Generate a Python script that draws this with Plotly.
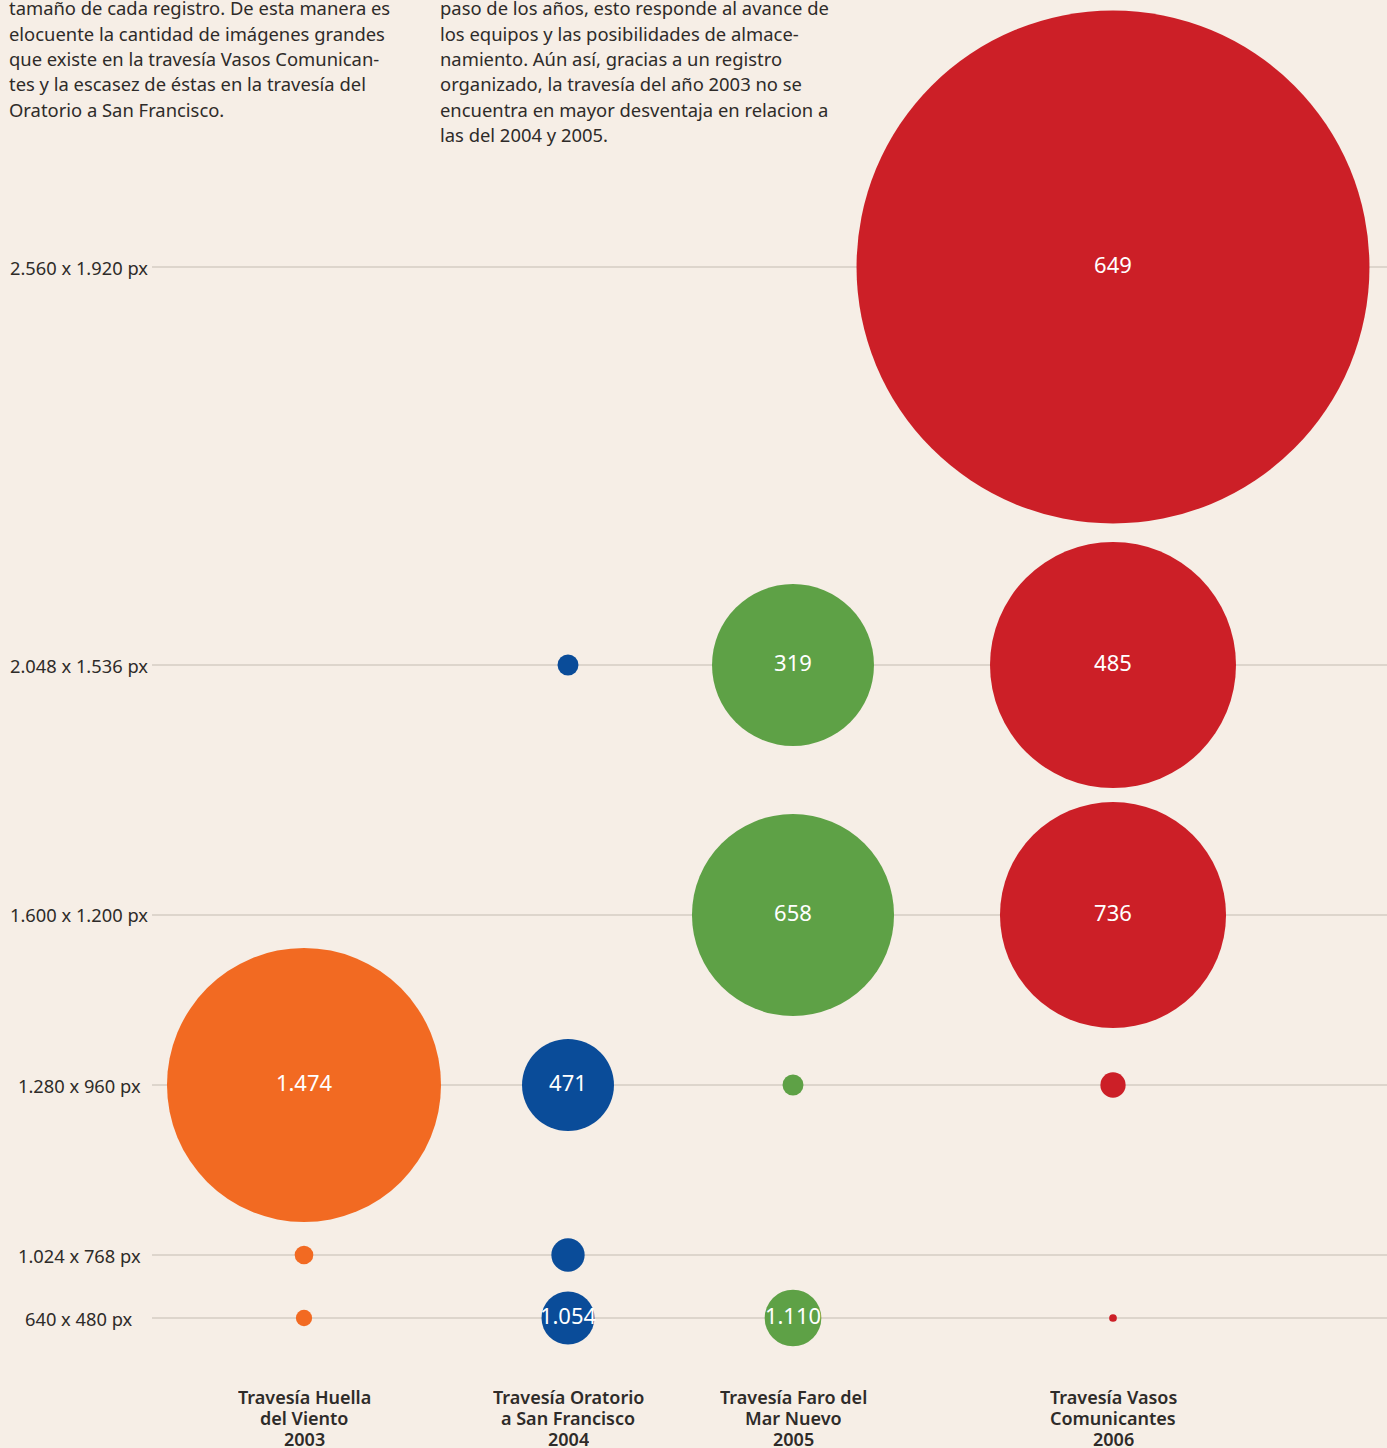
import plotly.graph_objects as go

# ---------------- DATA ----------------
resoluciones = ["2.560 x 1.920 px", "2.048 x 1.536 px", "1.600 x 1.200 px",
                "1.280 x 960 px", "1.024 x 768 px", "640 x 480 px"]

travesias = ["Travesía Huella<br>del Viento<br>2003",
             "Travesía Oratorio<br>a San Francisco<br>2004",
             "Travesía Faro del<br>Mar Nuevo<br>2005",
             "Travesía Vasos<br>Comunicantes<br>2006"]

colores = ["#F26A22", "#0A4C99", "#5EA146", "#CC1F27"]

# resolución de cada burbuja, etiqueta (cantidad de imágenes) y volumen (megapíxeles totales)
res_2003 = ["1.280 x 960 px", "1.024 x 768 px", "640 x 480 px"]
lab_2003 = ["1.474", "", ""]
vol_2003 = [1702, 116, 101]

res_2004 = ["2.048 x 1.536 px", "1.280 x 960 px", "1.024 x 768 px", "640 x 480 px"]
lab_2004 = ["", "471", "", "1.054"]
vol_2004 = [130, 571, 207, 329]

res_2005 = ["2.048 x 1.536 px", "1.600 x 1.200 px", "1.280 x 960 px", "640 x 480 px"]
lab_2005 = ["319", "658", "", "1.110"]
vol_2005 = [1006, 1255, 130, 352]

res_2006 = ["2.560 x 1.920 px", "2.048 x 1.536 px", "1.600 x 1.200 px", "1.280 x 960 px", "640 x 480 px"]
lab_2006 = ["649", "485", "736", "", ""]
vol_2006 = [3186, 1528, 1404, 157, 48]

texto_izq = ["tamaño de cada registro. De esta manera es",
             "elocuente la cantidad de imágenes grandes",
             "que existe en la travesía Vasos Comunican-",
             "tes y la escasez de éstas en la travesía del",
             "Oratorio a San Francisco."]
texto_der = ["paso de los años, esto responde al avance de",
             "los equipos y las posibilidades de almace-",
             "namiento. Aún así, gracias a un registro",
             "organizado, la travesía del año 2003 no se",
             "encuentra en mayor desventaja en relacion a",
             "las del 2004 y 2005."]

# ---------------- LAYOUT SCALES ----------------
W, H = 1387, 1448
L = 152
PW = W - L
col_pos = [152, 416, 641, 961]             # x-axis positions of the four columns
row_pos = [267, 665, 915, 1085, 1255, 1318]  # y-axis positions of the resolution rows
row_of = dict(zip(resoluciones, row_pos))

BG = "#F6EEE6"
TXT = "#2E2B29"
FONT = "Noto Sans"


def px_x(p):
    return (p - L) / PW


def px_y(p):
    return 1 - p / H


series = [(res_2003, lab_2003, vol_2003), (res_2004, lab_2004, vol_2004),
          (res_2005, lab_2005, vol_2005), (res_2006, lab_2006, vol_2006)]

fig = go.Figure()
for i, (res, lab, vol) in enumerate(series):
    fig.add_trace(go.Scatter(
        x=[col_pos[i]] * len(res),
        y=[row_of[r] for r in res],
        mode="markers+text",
        text=lab,
        textposition="middle center",
        textfont=dict(family=FONT, size=22, color="#FFFFFF"),
        marker=dict(size=vol, sizemode="diameter", sizeref=1 / 0.161,
                    color=colores[i], opacity=1, line=dict(width=0)),
        hoverinfo="skip",
        showlegend=False,
        cliponaxis=False,
    ))

ann = []
# resolution labels
for r, y in zip(resoluciones, row_pos):
    ann.append(dict(x=px_x(79), y=px_y(y), xref="paper", yref="paper", text=r, showarrow=False,
                    xanchor="center", yanchor="middle",
                    font=dict(family=FONT, size=18.3, color=TXT)))
# column labels (one annotation per line for tight spacing)
for t, x in zip(travesias, col_pos):
    for k, line in enumerate(t.split("<br>")):
        ann.append(dict(x=x, y=px_y(1396 + 21 * k), xref="x", yref="paper", text=line,
                        showarrow=False, xanchor="center", yanchor="middle",
                        height=19, borderpad=0,
                        font=dict(family=FONT, size=18, color=TXT, weight=600)))
# top paragraphs
for k, line in enumerate(texto_izq):
    ann.append(dict(x=px_x(7), y=px_y(8 + 25.3 * k), xref="paper", yref="paper", text=line,
                    showarrow=False, xanchor="left", yanchor="middle", align="left",
                    font=dict(family=FONT, size=18.4, color=TXT)))
for k, line in enumerate(texto_der):
    ann.append(dict(x=px_x(438), y=px_y(8 + 25.3 * k), xref="paper", yref="paper", text=line,
                    showarrow=False, xanchor="left", yanchor="middle", align="left",
                    font=dict(family=FONT, size=18.4, color=TXT)))

fig.update_layout(
    width=W, height=H,
    margin=dict(l=L, r=0, t=0, b=0),
    paper_bgcolor=BG, plot_bgcolor=BG,
    xaxis=dict(range=[0, PW], showgrid=False, zeroline=False,
               showticklabels=False, fixedrange=True),
    yaxis=dict(range=[H, 0], tickvals=row_pos, showticklabels=False,
               showgrid=True, gridcolor="#DDD5CC", gridwidth=1.5,
               zeroline=False, fixedrange=True),
    annotations=ann,
)

fig.write_html("out.html", config={"displayModeBar": False},
               post_script="document.body.style.margin='0';document.body.style.background='%s';" % BG)
